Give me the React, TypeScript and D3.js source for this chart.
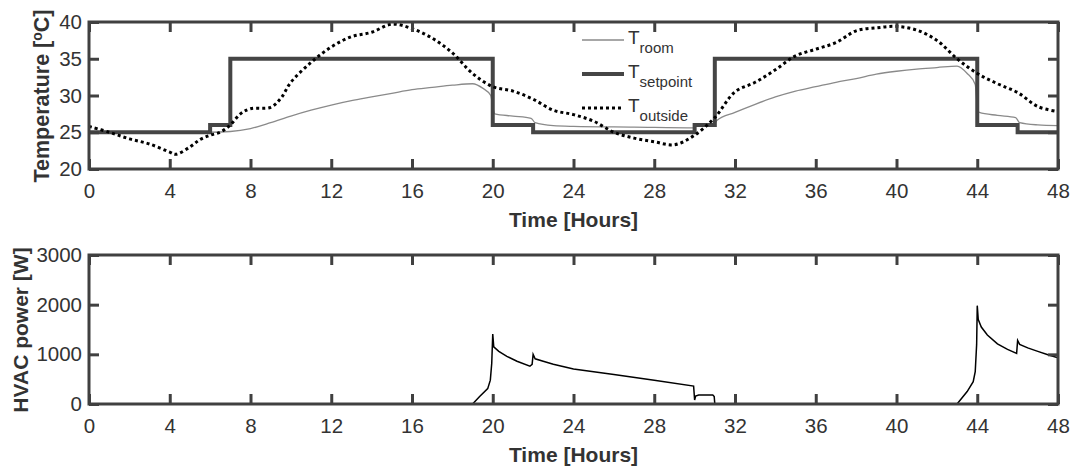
import React, { useRef, useEffect } from "react";
import * as d3 from "d3";

// tick values
const xTicks = [0, 4, 8, 12, 16, 20, 24, 28, 32, 36, 40, 44, 48];
const tempTicks = [20, 25, 30, 35, 40];
const powerTicks = [0, 1000, 2000, 3000];

// setpoint (step after)
const setpointHours = [0, 6, 7, 20, 22, 30, 31, 44, 46, 48];
const setpointTemp = [25, 26, 35, 26, 25, 26, 35, 26, 25, 25];

// room temperature
const roomHours = [0, 6, 7, 8, 9, 10, 11, 12, 13, 14, 15, 16, 17, 18, 19, 19.5, 19.9, 20.0, 20.1, 21, 21.9, 22.1, 23, 24, 27, 30, 30.1, 31, 31.1, 32, 33, 34, 35, 36, 37, 38, 39, 40, 41, 42, 43, 43.5, 43.9, 44.0, 44.1, 45, 45.9, 46.1, 47, 48];
const roomTemp = [25.0, 25.0, 25.1, 25.5, 26.3, 27.2, 28.0, 28.7, 29.3, 29.8, 30.3, 30.8, 31.1, 31.4, 31.6, 31.0, 30.0, 28.5, 27.5, 27.2, 26.9, 26.3, 25.9, 25.8, 25.7, 25.6, 25.9, 26.2, 26.6, 27.7, 28.8, 29.8, 30.6, 31.2, 31.8, 32.3, 32.9, 33.3, 33.6, 33.8, 34.0, 33.0, 31.5, 28.5, 27.7, 27.3, 27.0, 26.3, 26.0, 25.9];

// outside temperature
const outsideHours = [0, 1, 2, 3, 4, 4.3, 5, 5.5, 6, 6.5, 7, 7.5, 8, 9, 9.5, 10, 11, 12, 13, 14, 15, 16, 17, 18, 19, 20, 21, 22, 23, 24, 25, 26, 27, 28, 29, 30, 31, 32, 33, 34, 35, 36, 37, 38, 39, 40, 41, 42, 43, 44, 45, 46, 47, 48];
const outsideTemp = [25.8, 25.0, 24.1, 23.4, 22.3, 22.0, 23.0, 24.0, 24.6, 25.0, 26.0, 27.5, 28.2, 28.4, 29.6, 31.8, 34.5, 36.6, 38.0, 38.6, 39.7, 39.1, 37.8, 35.8, 33.0, 31.2, 30.6, 29.5, 28.0, 27.4, 26.5, 25.0, 24.2, 23.7, 23.3, 24.6, 27.0, 30.5, 31.8, 33.5, 35.4, 36.3, 37.2, 38.8, 39.2, 39.4, 38.9, 37.5, 35.0, 33.0, 31.6, 30.4, 28.5, 27.8];

// HVAC power
const powerHours = [0, 19, 19.35, 19.75, 19.88, 19.95, 20.0, 20.05, 20.3, 20.7, 21.2, 21.84, 21.95, 22.0, 22.1, 22.5, 23, 24, 26, 28, 29.95, 30.0, 30.05, 30.2, 30.9, 30.97, 31.0, 43, 43.2, 43.5, 43.8, 43.9, 43.97, 44.0, 44.05, 44.2, 44.5, 45, 45.5, 45.95, 46.0, 46.1, 46.5, 47, 47.5, 48];
const powerW = [0, 0, 150, 310, 480, 820, 1410, 1150, 1060, 960, 860, 760, 800, 1000, 910, 860, 800, 705, 595, 480, 360, 80, 160, 180, 180, 150, 0, 0, 100, 250, 450, 650, 1200, 1980, 1700, 1550, 1390, 1210, 1100, 1020, 1280, 1200, 1130, 1060, 990, 930];

const legendNames = ["room", "setpoint", "outside"];

const W = 1073, H = 469;
const left = 89, right = 1058;
const top1 = 22, bottom1 = 169, top2 = 255, bottom2 = 404;
const axisColor = "#404040";
const textColor = "#333";
const font = "'Liberation Sans', Arial, Helvetica, sans-serif";

const App = () => {
  const ref = useRef<SVGSVGElement>(null);

  useEffect(() => {
    document.body.style.margin = "0";
    const svg = d3.select(ref.current);
    svg.selectAll("*").remove();

    const x = d3.scaleLinear().domain([0, 48]).range([left, right]);
    const yT = d3.scaleLinear().domain([20, 40]).range([bottom1, top1]);
    const yP = d3.scaleLinear().domain([0, 3000]).range([bottom2, top2]);

    const defs = svg.append("defs");
    defs.append("clipPath").attr("id", "clip1").append("rect")
      .attr("x", left).attr("y", top1).attr("width", right - left).attr("height", bottom1 - top1);
    defs.append("clipPath").attr("id", "clip2").append("rect")
      .attr("x", left).attr("y", top2).attr("width", right - left).attr("height", bottom2 - top2);

    const styleAxis = (g: any, labels: boolean) => {
      g.select(".domain").remove();
      g.selectAll(".tick line").attr("stroke", axisColor).attr("stroke-width", 3);
      if (labels) {
        g.selectAll(".tick text").attr("fill", textColor).style("font-size", "20.5px").style("font-family", font);
      } else {
        g.selectAll(".tick text").remove();
      }
    };

    const drawAxes = (y: any, yTicks: number[], top: number, bottom: number) => {
      const g = svg.append("g");
      g.append("g").attr("transform", `translate(0,${bottom})`)
        .call(d3.axisBottom(x).tickValues(xTicks).tickSize(-10).tickSizeOuter(0).tickPadding(14.5))
        .call((s: any) => styleAxis(s, true));
      g.append("g").attr("transform", `translate(0,${top})`)
        .call(d3.axisTop(x).tickValues(xTicks).tickSize(-10).tickSizeOuter(0))
        .call((s: any) => styleAxis(s, false));
      g.append("g").attr("transform", `translate(${left},0)`)
        .call(d3.axisLeft(y).tickValues(yTicks).tickSize(-10).tickSizeOuter(0).tickPadding(7).tickFormat((d: any) => String(d)))
        .call((s: any) => styleAxis(s, true));
      g.append("g").attr("transform", `translate(${right},0)`)
        .call(d3.axisRight(y).tickValues(yTicks).tickSize(-10).tickSizeOuter(0))
        .call((s: any) => styleAxis(s, false));
      g.append("rect")
        .attr("x", left).attr("y", top).attr("width", right - left).attr("height", bottom - top)
        .attr("fill", "none").attr("stroke", axisColor).attr("stroke-width", 3);
    };

    // top chart lines
    const plot1 = svg.append("g").attr("clip-path", "url(#clip1)");
    const setData = setpointHours.map((h, i) => [h, setpointTemp[i]]);
    const roomData = roomHours.map((h, i) => [h, roomTemp[i]]);
    const outData = outsideHours.map((h, i) => [h, outsideTemp[i]]);

    plot1.append("path")
      .attr("d", d3.line().x((d: any) => x(d[0])).y((d: any) => yT(d[1])).curve(d3.curveMonotoneX)(roomData as any))
      .attr("fill", "none").attr("stroke", "#8a8a8a").attr("stroke-width", 1.3);
    plot1.append("path")
      .attr("d", d3.line().x((d: any) => x(d[0])).y((d: any) => yT(d[1])).curve(d3.curveStepAfter)(setData as any))
      .attr("fill", "none").attr("stroke", "#454545").attr("stroke-width", 4);
    plot1.append("path")
      .attr("d", d3.line().x((d: any) => x(d[0])).y((d: any) => yT(d[1])).curve(d3.curveCatmullRom)(outData as any))
      .attr("fill", "none").attr("stroke", "#000").attr("stroke-width", 3).attr("stroke-dasharray", "3,3");

    drawAxes(yT, tempTicks, top1, bottom1);

    // bottom chart line
    const plot2 = svg.append("g").attr("clip-path", "url(#clip2)");
    const powData = powerHours.map((h, i) => [h, powerW[i]]);
    plot2.append("path")
      .attr("d", d3.line().x((d: any) => x(d[0])).y((d: any) => yP(d[1]))(powData as any))
      .attr("fill", "none").attr("stroke", "#000").attr("stroke-width", 1.5);

    drawAxes(yP, powerTicks, top2, bottom2);

    // axis labels
    const label = (t: any) => t.attr("fill", textColor).style("font-family", font)
      .style("font-size", "21px").style("font-weight", "bold").attr("text-anchor", "middle");

    svg.append("text").attr("x", (left + right) / 2).attr("y", 227).text("Time [Hours]").call(label);
    svg.append("text").attr("x", (left + right) / 2).attr("y", 462).text("Time [Hours]").call(label);

    const yl1 = svg.append("text").attr("transform", `translate(49,96) rotate(-90)`).call(label)
      .style("font-size", "21.5px");
    yl1.append("tspan").text("Temperature [");
    yl1.append("tspan").attr("dy", -7).style("font-size", "14px").text("o");
    yl1.append("tspan").attr("dy", 7).text("C]");

    svg.append("text").attr("transform", `translate(28,330) rotate(-90)`).text("HVAC power [W]").call(label);

    // legend
    const legendY = [40, 74, 108];
    const lg = svg.append("g");
    legendNames.forEach((name, i) => {
      const ly = legendY[i];
      const line = lg.append("line").attr("x1", 582).attr("x2", 624).attr("y1", ly).attr("y2", ly).attr("fill", "none");
      if (i === 0) line.attr("stroke", "#8a8a8a").attr("stroke-width", 1.3);
      if (i === 1) line.attr("stroke", "#454545").attr("stroke-width", 4);
      if (i === 2) line.attr("stroke", "#000").attr("stroke-width", 3).attr("stroke-dasharray", "3,3");
      const t = lg.append("text").attr("x", 628).attr("y", ly + 4).attr("fill", textColor)
        .style("font-family", font).style("font-size", "19px");
      t.append("tspan").text("T");
      t.append("tspan").attr("dy", 9).style("font-size", "15px").text(name);
    });
  }, []);

  return (
    <div id="chartArea">
      <svg ref={ref} width={W} height={H} style={{ display: "block", background: "#fff" }}></svg>
    </div>
  );
};

export default App;
